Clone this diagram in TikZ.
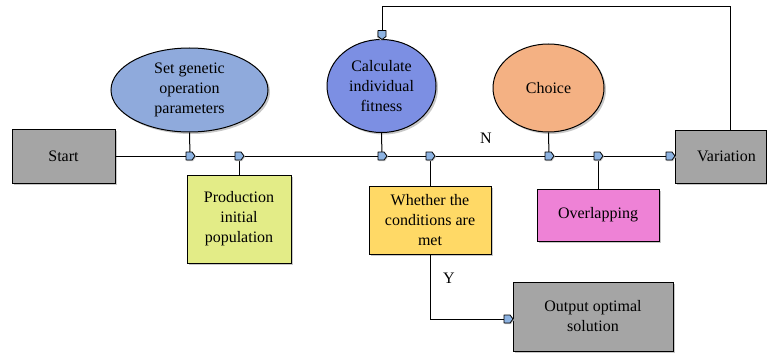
\documentclass[tikz,border=0pt]{standalone}
\usepackage{fontspec}
\setmainfont{Liberation Serif}
\usetikzlibrary{shapes.geometric,shadows}
\definecolor{boxgray}{HTML}{A5A5A5}
\definecolor{setblue}{HTML}{8FAADC}
\definecolor{calcblue}{HTML}{7C8FE3}
\definecolor{choiceorange}{HTML}{F4B183}
\definecolor{prodyellow}{HTML}{E3EC87}
\definecolor{condyellow}{HTML}{FFD966}
\definecolor{overpink}{HTML}{EE82D6}
\definecolor{markerblue}{HTML}{8DB3E2}
\definecolor{shadowgray}{HTML}{C8C8C8}
\tikzset{
  base/.style={draw=black, line width=1pt, align=center, inner sep=0pt,
    font=\fontsize{16}{20}\selectfont,
    drop shadow={shadow xshift=2pt, shadow yshift=-2pt, fill=shadowgray, opacity=1}},
  stepbox/.style={base, rectangle},
  oval/.style={base, ellipse},
  link/.style={draw=black, line width=1pt},
  tag/.style={font=\fontsize{16}{20}\selectfont, inner sep=0pt},
  marker/.pic={
    \fill[shadowgray] (-3,-3) -- (3,-3) -- (6,1) -- (3,5) -- (-3,5) -- cycle;
    \draw[fill=markerblue, line width=0.8pt, line join=round]
      (-4,-4) -- (2,-4) -- (5,0) -- (2,4) -- (-4,4) -- cycle;
  }
}
\begin{document}
\begin{tikzpicture}[x=1pt, y=-1pt]
\useasboundingbox (0,0) rectangle (767,353);

% flow nodes
\node[stepbox, fill=boxgray, minimum width=103pt, minimum height=54pt] (start) at (63.5,156) {Start};
\node[oval, fill=setblue, minimum width=157pt, minimum height=84pt] (setpar) at (189.5,90) {Set genetic\\operation\\parameters};
\node[stepbox, fill=prodyellow, minimum width=104pt, minimum height=88pt] (prod) at (239,219) {Production\\initial\\population};
\node[oval, fill=calcblue, minimum width=109pt, minimum height=93pt] (calc) at (381.5,86) {Calculate\\individual\\fitness};
\node[stepbox, fill=condyellow, minimum width=122pt, minimum height=68pt] (cond) at (430,220) {Whether the\\conditions are\\met};
\node[oval, fill=choiceorange, minimum width=111pt, minimum height=88pt] (choice) at (548.5,88) {Choice};
\node[stepbox, fill=overpink, minimum width=122pt, minimum height=52pt] (over) at (598,215) {Overlapping};
\node[stepbox, fill=boxgray, minimum width=91pt, minimum height=53pt] (vari) at (720.5,156.5) {\hspace*{12pt}Variation};
\node[stepbox, fill=boxgray, minimum width=160pt, minimum height=69pt] (out) at (593,316.5) {Output optimal\\solution};

% junctions on the main line
\coordinate (j1) at (190,156);
\coordinate (j2) at (239,156);
\coordinate (j3) at (382,156);
\coordinate (j4) at (430,156);
\coordinate (j5) at (549,156);
\coordinate (j6) at (598,156);
\coordinate (j7) at (670,156);
\coordinate (topL) at (382,7);
\coordinate (topR) at (730,7);
\coordinate (topM) at (382,34.5);
\coordinate (outM) at (508,319);
\coordinate (bend) at (430,319);

% connectors
\draw[link] (start.east |- j1) -- (vari.west |- j1);
\draw[link] (setpar.south) -- (j1);
\draw[link] (prod.north) -- (j2);
\draw[link] (calc.south) -- (j3);
\draw[link] (cond.north) -- (j4);
\draw[link] (choice.south) -- (j5);
\draw[link] (over.north) -- (j6);
\draw[link] (vari.north -| topR) -- (topR) -- (topL) -- (topM);
\draw[link] (cond.south) -- (bend) -- (outM);

% junction markers
\foreach \j in {j1,j2,j3,j4,j5,j6,j7,outM}
  \pic at (\j) {marker};
\pic[rotate=-90] at (topM) {marker};

% branch labels
\node[tag] (nlab) at (486,138) {N};
\node[tag] (ylab) at (449,278) {Y};
\end{tikzpicture}
\end{document}
